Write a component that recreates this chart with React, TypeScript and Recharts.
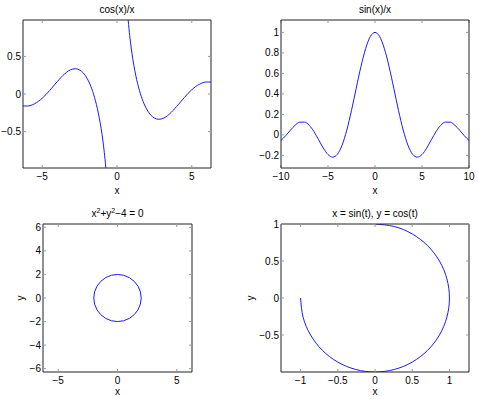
import React from "react";
import { Line, LineChart, XAxis, YAxis } from "recharts";

// cos(x)/x, two branches split at the pole
const cosX = [-6.28, -6, -5.5, -5, -4.5, -4, -3.5, -3, -2.75, -2.5, -2.25, -2, -1.75, -1.5, -1.25, -1, -0.9, -0.8, -0.7, -0.6, 0, 0.6, 0.7, 0.8, 0.9, 1, 1.25, 1.5, 1.75, 2, 2.25, 2.5, 2.75, 3, 3.5, 4, 4.5, 5, 5.5, 6, 6.28];
const cosY = [-0.159, -0.16, -0.129, -0.057, 0.047, 0.163, 0.268, 0.33, 0.336, 0.32, 0.279, 0.208, 0.102, -0.047, -0.252, -0.54, -0.691, -0.871, -1.093, -1.376, null, 1.376, 1.093, 0.871, 0.691, 0.54, 0.252, 0.047, -0.102, -0.208, -0.279, -0.32, -0.336, -0.33, -0.268, -0.163, -0.047, 0.057, 0.129, 0.16, 0.159];

// sin(x)/x
const sinX = [-10, -9.5, -9, -8.5, -8, -7.5, -7, -6.5, -6, -5.5, -5, -4.5, -4, -3.5, -3, -2.5, -2, -1.5, -1, -0.5, 0, 0.5, 1, 1.5, 2, 2.5, 3, 3.5, 4, 4.5, 5, 5.5, 6, 6.5, 7, 7.5, 8, 8.5, 9, 9.5, 10];
const sinY = [-0.054, -0.008, 0.046, 0.094, 0.124, 0.125, 0.094, 0.033, -0.047, -0.128, -0.192, -0.217, -0.189, -0.1, 0.047, 0.239, 0.455, 0.665, 0.841, 0.959, 1, 0.959, 0.841, 0.665, 0.455, 0.239, 0.047, -0.1, -0.189, -0.217, -0.192, -0.128, -0.047, 0.033, 0.094, 0.125, 0.124, 0.094, 0.046, -0.008, -0.054];

// x^2 + y^2 - 4 = 0
const circleX = [2, 1.932, 1.732, 1.414, 1, 0.518, 0, -0.518, -1, -1.414, -1.732, -1.932, -2, -1.932, -1.732, -1.414, -1, -0.518, 0, 0.518, 1, 1.414, 1.732, 1.932, 2];
const circleY = [0, 0.518, 1, 1.414, 1.732, 1.932, 2, 1.932, 1.732, 1.414, 1, 0.518, 0, -0.518, -1, -1.414, -1.732, -1.932, -2, -1.932, -1.732, -1.414, -1, -0.518, 0];

// x = sin(t), y = cos(t)
const arcX = [0, 0.259, 0.5, 0.707, 0.866, 0.966, 1, 0.966, 0.866, 0.707, 0.5, 0.259, 0, -0.259, -0.5, -0.707, -0.866, -0.966, -1];
const arcY = [1, 0.966, 0.866, 0.707, 0.5, 0.259, 0, -0.259, -0.5, -0.707, -0.866, -0.966, -1, -0.966, -0.866, -0.707, -0.5, -0.259, 0];

const ticksCosX = [-5, 0, 5];
const ticksCosY = [-0.5, 0, 0.5];
const ticksSinX = [-10, -5, 0, 5, 10];
const ticksSinY = [-0.2, 0, 0.2, 0.4, 0.6, 0.8, 1];
const ticksCircleX = [-5, 0, 5];
const ticksCircleY = [-6, -4, -2, 0, 2, 4, 6];
const ticksArcX = [-1, -0.5, 0, 0.5, 1];
const ticksArcY = [-0.5, 0, 0.5, 1];

const zip = (xs: number[], ys: (number | null)[]) => xs.map((x, i) => ({ x, y: ys[i] }));

const BOX = "#222";
const TICK = "#999";
const BLUE = "#1a1aff";
const fmt = (v: number) => String(v).replace("-", "\u2212");
const noTick = () => <g />;

type PanelProps = {
  left: number;
  top: number;
  width: number;
  height: number;
  data: { x: number; y: number | null }[];
  xDomain: [number, number];
  yDomain: [number, number];
  xTicks: number[];
  yTicks: number[];
  yAxisWidth: number;
  marginTop: number;
  marginRight: number;
  xAxisHeight: number;
  title: React.ReactNode;
  titleOffset: number;
  xLabelOffset: number;
  yLabelOffset?: number;
  curve: "monotone" | "linear" | "natural";
};

function Panel(p: PanelProps) {
  const titleLabel = (props: any) => {
    const vb = props.viewBox;
    return (
      <text x={vb.x + vb.width / 2} y={vb.y + vb.height - p.titleOffset} textAnchor="middle" fontSize={10} fill="#000">
        {p.title}
      </text>
    );
  };
  const xLabel = (props: any) => {
    const vb = props.viewBox;
    return (
      <text x={vb.x + vb.width / 2} y={vb.y + vb.height - p.xLabelOffset} textAnchor="middle" fontSize={10} fill="#000">
        x
      </text>
    );
  };
  const yLabel = (props: any) => {
    const vb = props.viewBox;
    const lx = vb.x + vb.width - (p.yLabelOffset ?? 0);
    const ly = vb.y + vb.height / 2;
    return (
      <text x={lx} y={ly} textAnchor="middle" fontSize={10} fill="#000" transform={`rotate(-90 ${lx} ${ly})`}>
        y
      </text>
    );
  };
  return (
    <div style={{ position: "absolute", left: p.left, top: p.top }}>
      <LineChart
        width={p.width}
        height={p.height}
        data={p.data}
        margin={{ top: 0, right: p.marginRight - 1, bottom: 0, left: 0 }}
      >
        <XAxis
          dataKey="x"
          type="number"
          domain={p.xDomain}
          ticks={p.xTicks}
          allowDataOverflow
          height={p.xAxisHeight}
          tickSize={-3}
          tickMargin={8}
          tickFormatter={fmt}
          axisLine={{ stroke: BOX }}
          tickLine={{ stroke: TICK }}
          tick={{ fill: "#000", fontSize: 10 }}
          label={{ content: xLabel }}
        />
        <XAxis
          xAxisId="top"
          dataKey="x"
          orientation="top"
          type="number"
          domain={p.xDomain}
          ticks={p.xTicks}
          allowDataOverflow
          height={p.marginTop}
          tickSize={-3}
          axisLine={{ stroke: BOX }}
          tickLine={{ stroke: TICK }}
          tick={noTick}
          label={{ content: titleLabel }}
        />
        <YAxis
          type="number"
          domain={p.yDomain}
          ticks={p.yTicks}
          allowDataOverflow
          width={p.yAxisWidth}
          tickSize={-3}
          tickMargin={5}
          tickFormatter={fmt}
          axisLine={{ stroke: BOX }}
          tickLine={{ stroke: TICK }}
          tick={{ fill: "#000", fontSize: 10 }}
          label={p.yLabelOffset !== undefined ? { content: yLabel } : undefined}
        />
        <YAxis
          yAxisId="right"
          orientation="right"
          type="number"
          domain={p.yDomain}
          ticks={p.yTicks}
          allowDataOverflow
          width={1}
          tickSize={-3}
          axisLine={{ stroke: BOX }}
          tickLine={{ stroke: TICK }}
          tick={noTick}
        />
        <Line
          dataKey="y"
          type={p.curve}
          stroke={BLUE}
          strokeWidth={1}
          dot={false}
          connectNulls={false}
          isAnimationActive={false}
        />
        <Line
          xAxisId="top"
          yAxisId="right"
          dataKey="y"
          stroke="none"
          dot={false}
          activeDot={false}
          isAnimationActive={false}
        />
      </LineChart>
    </div>
  );
}

export default function App() {
  return (
    <div
      style={{
        position: "absolute",
        left: 0,
        top: 0,
        width: 478,
        height: 399,
        background: "#fff",
        fontFamily: "'Liberation Sans', Arial, sans-serif",
      }}
    >
      <Panel
        left={0}
        top={0}
        width={239}
        height={200}
        data={zip(cosX, cosY)}
        xDomain={[-6.2832, 6.2832]}
        yDomain={[-0.985, 0.985]}
        xTicks={ticksCosX}
        yTicks={ticksCosY}
        yAxisWidth={23}
        marginTop={20}
        marginRight={28}
        xAxisHeight={32}
        title="cos(x)/x"
        titleOffset={7.5}
        xLabelOffset={6.5}
        curve="monotone"
      />
      <Panel
        left={239}
        top={0}
        width={239}
        height={200}
        data={zip(sinX, sinY)}
        xDomain={[-10, 10]}
        yDomain={[-0.323, 1.121]}
        xTicks={ticksSinX}
        yTicks={ticksSinY}
        yAxisWidth={42}
        marginTop={20}
        marginRight={9}
        xAxisHeight={32}
        title="sin(x)/x"
        titleOffset={7.5}
        xLabelOffset={6.5}
        curve="monotone"
      />
      <Panel
        left={0}
        top={200}
        width={239}
        height={199}
        data={zip(circleX, circleY)}
        xDomain={[-6.2832, 6.2832]}
        yDomain={[-6.2832, 6.2832]}
        xTicks={ticksCircleX}
        yTicks={ticksCircleY}
        yAxisWidth={43}
        marginTop={24}
        marginRight={47}
        xAxisHeight={27}
        title={
          <>
            x<tspan dy={-4} fontSize={7}>2</tspan>
            <tspan dy={4}>+y</tspan>
            <tspan dy={-4} fontSize={7}>2</tspan>
            <tspan dy={4}>{"\u22124 = 0"}</tspan>
          </>
        }
        titleOffset={7}
        xLabelOffset={4}
        yLabelOffset={19}
        curve="linear"
      />
      <Panel
        left={239}
        top={200}
        width={239}
        height={199}
        data={zip(arcX, arcY)}
        xDomain={[-1.263, 1.263]}
        yDomain={[-1, 1]}
        xTicks={ticksArcX}
        yTicks={ticksArcY}
        yAxisWidth={42}
        marginTop={24}
        marginRight={9}
        xAxisHeight={27}
        title="x = sin(t), y = cos(t)"
        titleOffset={7}
        xLabelOffset={4}
        yLabelOffset={27.5}
        curve="natural"
      />
    </div>
  );
}
